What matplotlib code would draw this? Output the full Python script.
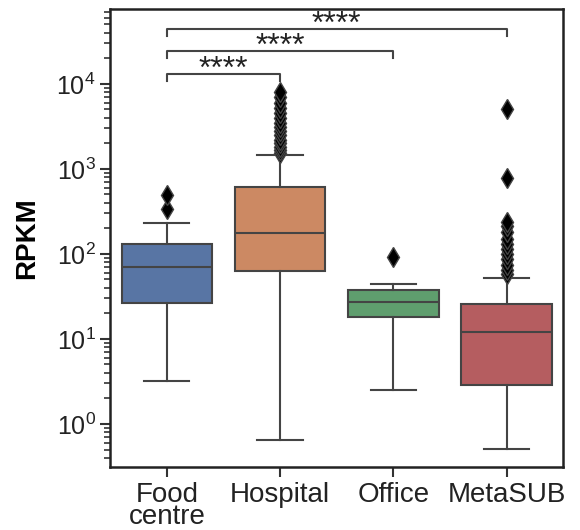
import matplotlib
matplotlib.use("Agg")
import matplotlib.pyplot as plt
import numpy as np

plt.rcParams["font.family"] = ["Liberation Sans", "DejaVu Sans"]

# ---------------------------------------------------------------------------
# data (RPKM, log scale)
# ---------------------------------------------------------------------------
groups = ["Food\ncentre", "Hospital", "Office", "MetaSUB"]
q1 = [26.5, 63, 18.1, 2.9]
med = [70, 177, 27.2, 12.1]
q3 = [131, 614, 37.7, 25.9]
whislo = [3.2, 0.65, 2.5, 0.51]
whishi = [232, 1460, 44.4, 52]
fliers = [
    [339, 494],
    [1550, 1650, 1800, 2000, 2200, 2500, 2800, 3100, 3500, 4000, 4500,
     5200, 6000, 7000, 8050],
    [92],
    [58, 65, 75, 88, 100, 115, 130, 150, 180, 210, 238, 783, 5080],
]
colors = ["#5875a4", "#cc8963", "#5f9e6e", "#b55d60"]

# significance brackets: (left group, right group, height, label)
pairs = [(0, 1, 13100, "****"), (0, 2, 24400, "****"), (0, 3, 44400, "****")]

line_col = "#444444"

fig = plt.figure(figsize=(5.8, 5.3), dpi=100)
ax = fig.add_axes([0.19, 0.119, 0.781, 0.864])

stats = []
for i in range(len(groups)):
    stats.append(dict(q1=q1[i], med=med[i], q3=q3[i],
                      whislo=whislo[i], whishi=whishi[i], fliers=fliers[i]))

bp = ax.bxp(stats, positions=range(len(groups)), widths=0.8,
            patch_artist=True, showfliers=True,
            boxprops=dict(edgecolor=line_col, linewidth=1.5),
            medianprops=dict(color=line_col, linewidth=1.5),
            whiskerprops=dict(color=line_col, linewidth=1.5),
            capprops=dict(color=line_col, linewidth=1.5),
            flierprops=dict(marker="d", markerfacecolor="black",
                            markeredgecolor=line_col, markersize=10))
for patch, c in zip(bp["boxes"], colors):
    patch.set_facecolor(c)
for cap in bp["caps"]:
    mid = np.mean(cap.get_xdata())
    cap.set_xdata([mid - 0.2, mid + 0.2])

ax.set_yscale("log")
ax.set_ylim(0.312, 75900)
ax.set_xlim(-0.5, 3.5)

# brackets
for a, b, h, lab in pairs:
    lo = h / 10 ** 0.08
    ax.plot([a, a, b, b], [lo, h, h, lo], color=line_col, linewidth=1.5)
    ax.text((a + b) / 2, h / 10 ** 0.045, lab, ha="center", va="baseline",
            fontsize=23, color="#222222")

ax.set_xticks(range(len(groups)))
ax.set_xticklabels(groups, fontsize=20, linespacing=0.8, color="#222222")
ax.set_yticks([1, 10, 100, 1000, 10000])
ax.set_yticklabels([r"$\mathregular{10^{0}}$", r"$\mathregular{10^{1}}$",
                    r"$\mathregular{10^{2}}$", r"$\mathregular{10^{3}}$",
                    r"$\mathregular{10^{4}}$"], fontsize=18, color="#222222")
ax.tick_params(axis="both", which="major", length=7, width=1.5, colors="#333333",
               labelcolor="#222222")
ax.tick_params(axis="y", which="minor", length=4, width=1.2, colors="#333333")
ax.set_ylabel("RPKM", fontsize=20, fontweight="bold", labelpad=12)

for s in ax.spines.values():
    s.set_linewidth(1.8)
    s.set_color("#222222")

fig.savefig("out.png", dpi=100)
